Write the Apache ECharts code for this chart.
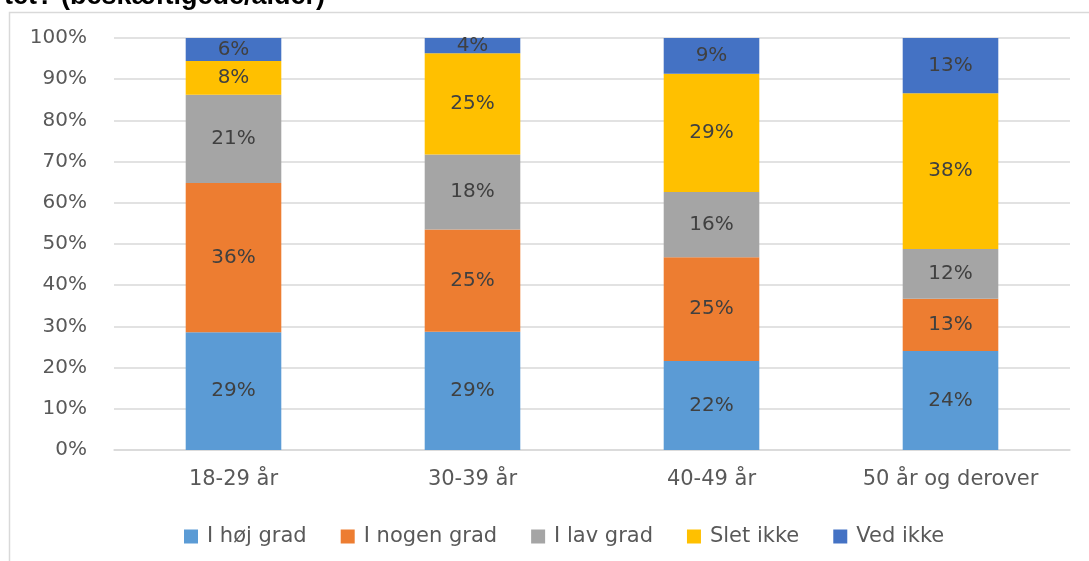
<!DOCTYPE html>
<html>
<head>
<meta charset="utf-8">
<script src="https://cdn.jsdelivr.net/npm/echarts@6/dist/echarts.min.js"></script>
<style>html,body{margin:0;padding:0;background:#fff;}#c{width:1089px;height:561px;}</style>
</head>
<body>
<div id="c"></div>
<script>
const categories = ['18-29 år', '30-39 år', '40-49 år', '50 år og derover'];
const seriesNames = ['I høj grad', 'I nogen grad', 'I lav grad', 'Slet ikke', 'Ved ikke'];
const hojGrad   = [28.6, 28.7, 21.6, 24.0];
const nogenGrad = [36.2, 24.8, 25.2, 12.7];
const lavGrad   = [21.4, 18.2, 15.8, 12.1];
const sletIkke  = [8.2, 24.6, 28.7, 37.8];
const vedIkke   = [5.6, 3.7, 8.7, 13.4];
const yTicks = [0, 10, 20, 30, 40, 50, 60, 70, 80, 90, 100];
const titleText = 'tet? (beskæftigede/alder)';

const colors = ['#5B9BD5', '#ED7D31', '#A5A5A5', '#FFC000', '#4472C4'];
const values = [hojGrad, nogenGrad, lavGrad, sletIkke, vedIkke];
const font = '"DejaVu Sans", Verdana, sans-serif';

const chart = echarts.init(document.getElementById('c'), null, {renderer: 'canvas'});
chart.setOption({
  animation: false,
  color: colors,
  title: {
    text: titleText, left: -1, top: -22,
    textStyle: {fontFamily: '"Liberation Sans", Arial, sans-serif', fontWeight: 'bold', fontSize: 27, color: '#000'}
  },
  graphic: [{
    type: 'rect', silent: true, z: -1,
    shape: {x: 9.5, y: 12.5, width: 1200, height: 700},
    style: {fill: '#fff', stroke: '#d9d9d9', lineWidth: 1.5}
  }],
  grid: {left: 114, right: 19, top: 38, bottom: 111, containLabel: false},
  legend: {
    data: seriesNames, top: 521, left: 179, itemWidth: 14, itemHeight: 14, itemGap: 34,
    icon: 'rect',
    textStyle: {fontFamily: font, fontSize: 21, color: '#595959', padding: [0, 0, 0, 4]}
  },
  xAxis: {
    type: 'category', data: categories,
    axisLine: {lineStyle: {color: '#d9d9d9', width: 1.5}},
    axisTick: {show: false},
    axisLabel: {fontFamily: font, fontSize: 21, color: '#595959', margin: 19}
  },
  yAxis: {
    type: 'value', min: yTicks[0], max: yTicks[yTicks.length - 1], interval: 10,
    axisLine: {show: false}, axisTick: {show: false},
    splitLine: {lineStyle: {color: '#d9d9d9', width: 1.5}},
    axisLabel: {fontFamily: font, fontSize: 20, color: '#595959', margin: 27, formatter: '{value}%'}
  },
  series: seriesNames.map((n, i) => ({
    name: n, type: 'bar', stack: 'total', data: values[i], barWidth: '40%',
    label: {
      show: true, position: 'inside',
      fontFamily: font, fontSize: 20, color: '#404040',
      formatter: p => Math.round(p.value) + '%'
    }
  }))
});
</script>
</body>
</html>
